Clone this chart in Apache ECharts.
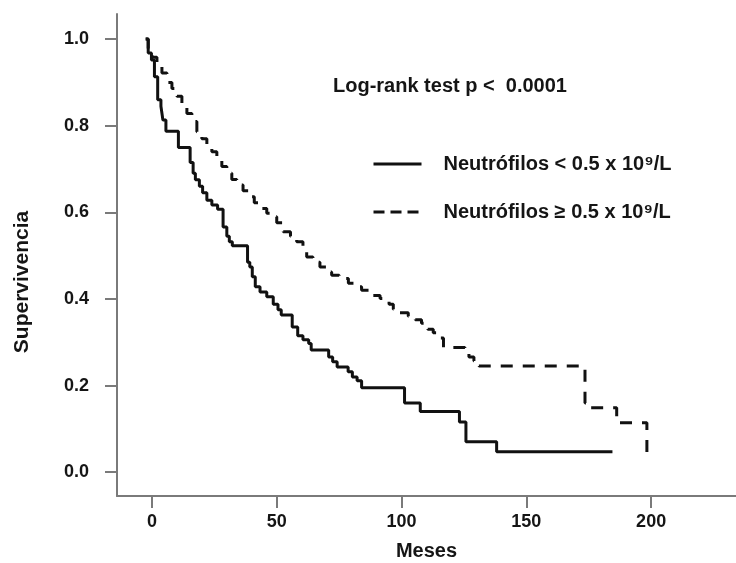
<!DOCTYPE html>
<html>
<head>
<meta charset="utf-8">
<script src="https://cdn.jsdelivr.net/npm/echarts@6/dist/echarts.min.js"></script>
<style>html,body{margin:0;padding:0;background:#fff}#c{width:736px;height:563px}</style>
</head>
<body>
<div id="c"></div>
<script>
// ---- data ----
const nameLow = 'Neutrófilos < 0.5 x 10⁹/L';
const nameHigh = 'Neutrófilos ≥ 0.5 x 10⁹/L';
const titleText = 'Log-rank test p <  0.0001';

const lowTimes = [-2.5,-1.5,-0.2,1.0,2.3,3.6,4.4,5.6,10.6,15.3,16.5,17.4,19.0,20.3,22.0,24.0,26.3,28.5,30.0,31.0,32.2,38.3,39.2,40.2,41.4,43.3,46.0,48.6,50.5,51.8,56.2,58.4,60.5,62.8,63.8,70.8,72.4,74.2,78.6,80.3,82.2,84.0,101.2,107.5,123.2,125.8,138.1];
const lowSurv  = [1.0,0.968,0.952,0.913,0.86,0.845,0.813,0.787,0.750,0.715,0.69,0.675,0.66,0.645,0.628,0.617,0.607,0.566,0.545,0.532,0.523,0.485,0.474,0.451,0.428,0.416,0.405,0.388,0.375,0.363,0.335,0.315,0.306,0.297,0.282,0.266,0.255,0.243,0.232,0.22,0.211,0.195,0.16,0.14,0.116,0.07,0.047];
const lowEnd = 184.5;

const highTimes = [-2.5,-1.5,0,2,4,6,8,10,12,14,16,18,20,22,24,26,28,30,32,34,36.5,38.6,41,43.3,46,48,50,52.6,55.5,58,60.5,62,64.5,67.3,70,72,75,78.7,81,84,88,91.4,95,96.7,99,102.7,105.5,108,110.5,112.7,114,116.8,125.4,127,129,131,173.5,175,186.2,198.3];
const highSurv  = [1.0,0.975,0.958,0.94,0.922,0.9,0.886,0.868,0.85,0.828,0.81,0.786,0.77,0.755,0.74,0.724,0.706,0.69,0.676,0.663,0.65,0.636,0.622,0.609,0.598,0.59,0.576,0.555,0.545,0.532,0.51,0.497,0.485,0.474,0.462,0.455,0.447,0.436,0.428,0.42,0.408,0.401,0.388,0.376,0.368,0.36,0.352,0.344,0.33,0.322,0.31,0.288,0.278,0.266,0.257,0.245,0.16,0.149,0.114,0.035];
const highEnd = null;

const xTicks = [0, 50, 100, 150, 200];
const yTicks = [0.0, 0.2, 0.4, 0.6, 0.8, 1.0];

function steps(times, surv, end) {
  const pts = [[times[0], surv[0]]];
  for (let i = 1; i < times.length; i++) {
    pts.push([times[i], surv[i - 1]]);
    pts.push([times[i], surv[i]]);
  }
  if (end != null) pts.push([end, surv[surv.length - 1]]);
  return pts;
}

const FONT = '"Liberation Sans", Arial, sans-serif';
const TXT = '#151515';
const AX = '#7a7a7a';

const chart = echarts.init(document.getElementById('c'));
chart.setOption({
  animation: false,
  backgroundColor: '#fff',
  title: {
    text: titleText, left: 333, top: 76, padding: 0,
    textStyle: { fontFamily: FONT, fontSize: 20, fontWeight: 'bold', color: TXT }
  },
  legend: {
    orient: 'vertical', left: 372, top: 154, padding: 0,
    itemWidth: 48, itemHeight: 14, itemGap: 28,
    itemStyle: { opacity: 0 },
    lineStyle: { width: 3, color: '#111' },
    textStyle: { fontFamily: FONT, fontSize: 20, fontWeight: 'bold', color: TXT, padding: [0, 0, 0, 17] },
    data: [
      { name: nameLow },
      { name: nameHigh, lineStyle: { type: [11, 6], width: 3, color: '#111' } }
    ]
  },
  grid: { left: 117, right: 0, top: 14, bottom: 67, outerBoundsMode: 'none' },
  xAxis: {
    type: 'value', min: -14, max: 234,
    name: 'Meses', nameLocation: 'middle', nameGap: 45,
    nameTextStyle: { fontFamily: FONT, fontSize: 20, fontWeight: 'bold', color: TXT },
    axisLine: { show: true, onZero: false, lineStyle: { color: AX, width: 2 } },
    axisTick: { show: true, length: 12, customValues: xTicks, lineStyle: { color: AX, width: 2 } },
    axisLabel: { customValues: xTicks, margin: 17, fontFamily: FONT, fontSize: 18, fontWeight: 'bold', color: TXT },
    splitLine: { show: false }
  },
  yAxis: {
    type: 'value', min: -0.055, max: 1.058,
    name: 'Supervivencia', nameLocation: 'middle', nameGap: 84, nameRotate: 90,
    nameTextStyle: { fontFamily: FONT, fontSize: 21, fontWeight: 'bold', color: TXT, padding: [0, 54, 0, 0] },
    axisLine: { show: true, onZero: false, lineStyle: { color: AX, width: 2 } },
    axisTick: { show: true, length: 12, customValues: yTicks, lineStyle: { color: AX, width: 2 } },
    axisLabel: { customValues: yTicks, margin: 28, fontFamily: FONT, fontSize: 18, fontWeight: 'bold', color: TXT,
      formatter: v => v.toFixed(1) },
    splitLine: { show: false }
  },
  series: [
    { name: nameLow, type: 'line', data: steps(lowTimes, lowSurv, lowEnd), symbol: 'none', showSymbol: false,
      lineStyle: { color: '#111', width: 3, type: 'solid' }, itemStyle: { color: '#111' } },
    { name: nameHigh, type: 'line', data: steps(highTimes, highSurv, highEnd), symbol: 'none', showSymbol: false,
      lineStyle: { color: '#111', width: 3, type: [12, 10] }, itemStyle: { color: '#111' } }
  ]
});
</script>
</body>
</html>
